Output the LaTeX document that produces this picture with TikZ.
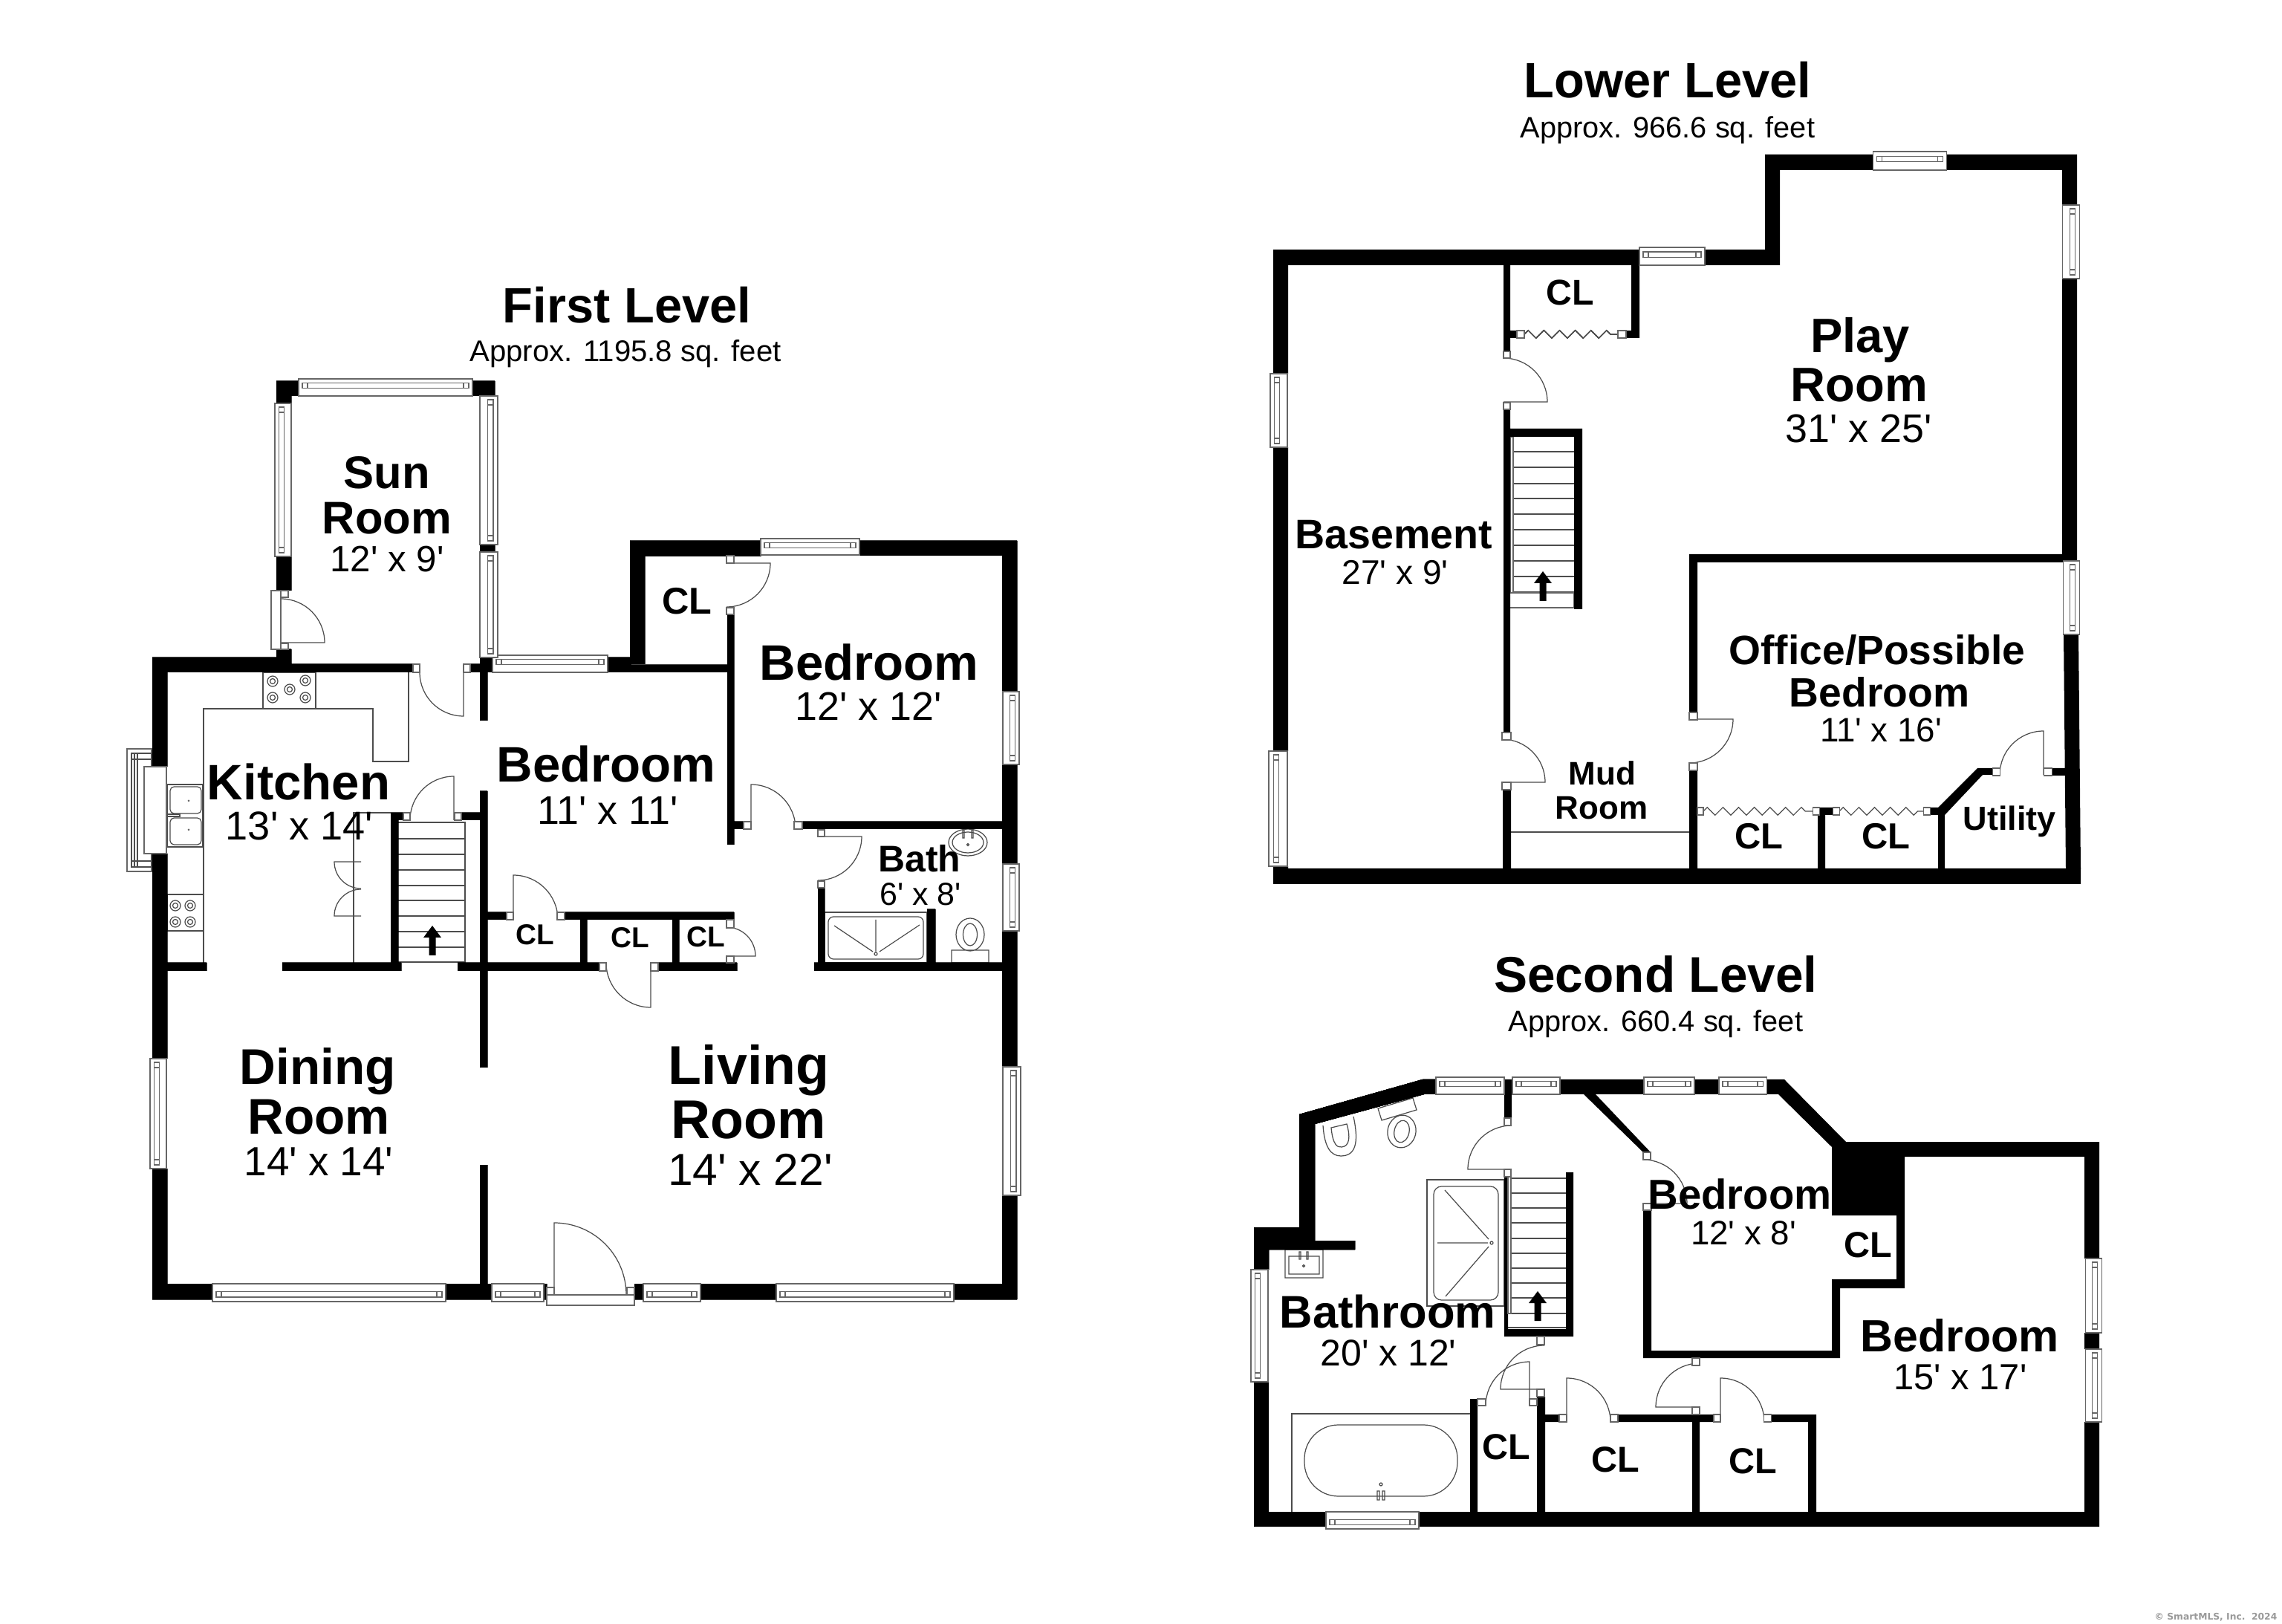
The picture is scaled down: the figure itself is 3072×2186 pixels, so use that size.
\documentclass[tikz,border=0pt]{standalone}
\usepackage{fontspec}
\newfontfamily\planfont{Liberation Sans}
\newfontfamily\markfont{DejaVu Sans}
\usetikzlibrary{decorations.pathmorphing}
\tikzset{
wall/.style={fill=black,draw=none},
fineline/.style={draw=black!70,line width=0.35pt},
sash/.style={draw=black!60,line width=0.3pt,fill=white},
bifold/.style={fineline,decorate,decoration={zigzag,segment length=6pt,amplitude=1.5pt}},
roomname/.style={anchor=base,inner sep=0pt,font=\planfont\bfseries\fontsize{#1}{#1}\selectfont},
roomdim/.style={anchor=base,inner sep=0pt,font=\planfont\fontsize{#1}{#1}\selectfont},
}
\newcommand\winh[4]{\draw[sash] (#1,#3) rectangle (#2,#4);
\draw[sash] ({#1+5},{#3+.25*(#4-#3)}) rectangle ({#2-5},{#3+.55*(#4-#3)});
\draw[sash] ({#1+12},{#3+.25*(#4-#3)}) -- ({#1+12},{#3+.55*(#4-#3)}) ({#2-12},{#3+.25*(#4-#3)}) -- ({#2-12},{#3+.55*(#4-#3)});}
\newcommand\winv[4]{\draw[sash] (#3,#1) rectangle (#4,#2);
\draw[sash] ({#3+.25*(#4-#3)},{#1+5}) rectangle ({#3+.55*(#4-#3)},{#2-5});
\draw[sash] ({#3+.25*(#4-#3)},{#1+12}) -- ({#3+.55*(#4-#3)},{#1+12}) ({#3+.25*(#4-#3)},{#2-12}) -- ({#3+.55*(#4-#3)},{#2-12});}
\newcommand\door[5]{\draw[fineline] (#1,#2)--++(#3:#5) arc[start angle=#3,end angle=#4,radius=#5];}
\newcommand\stairarrow[2]{\fill (#1,#2)--++(12,16)--++(-7.5,0)--++(0,24)--++(-9,0)--++(0,-24)--++(-7.5,0)--cycle;}
\begin{document}
\begin{tikzpicture}[x=0.01cm,y=-0.01cm]
\useasboundingbox (0,0) rectangle (3072,2186);
% first level: fittings
\draw[fineline] (550,905)--(550,1025)--(502,1025)--(502,954)--(274,954)--(274,1296);
\draw[fineline] (354,905) rectangle (425,954) (225,1204) rectangle (274,1253) (225,1056) rectangle (273,1140);
\foreach \a/\b in {367/917,411/916,390/928,367/939,411/939,236/1219,256/1219,236/1241,256/1241}
\draw[fineline] (\a,\b) circle[radius=7] (\a,\b) circle[radius=3.5];
\draw[fineline,rounded corners=1.5pt] (229,1059) rectangle (271,1095) (229,1101) rectangle (271,1137);
\fill[black!60] (254,1078) circle[radius=1.5] (254,1117) circle[radius=1.5];
\draw[fineline] (225,1096) rectangle (242,1099);
\draw[fineline] (526,1094)--(476,1094)--(476,1296);
\draw[fineline] (486,1160)--(450,1160) arc[start angle=180,end angle=90,radius=36];
\draw[fineline] (486,1233)--(450,1233) arc[start angle=180,end angle=270,radius=36];
\foreach \y in {1129,1150,1171,1192,1212,1233,1254,1275}
\draw[fineline] (536,\y)--(626,\y);
\draw[fineline] (536,1107)--(626,1107)--(626,1295)--(534,1295)--(534,1275);
\stairarrow{582}{1246}
\draw[fineline] (1281,1279) rectangle (1331,1296) (1306,1258) ellipse[x radius=19,y radius=22] (1306,1258) ellipse[x radius=9.5,y radius=15];
\draw[fineline] (1303,1134) ellipse[x radius=26,y radius=18] (1303,1134) ellipse[x radius=21,y radius=14];
\draw[fineline] (1296,1117) rectangle (1298,1128) (1308,1117) rectangle (1310,1128) (1303,1137) circle[radius=1.5];
\draw[fineline] (1110,1228) rectangle (1248,1296);
\draw[fineline,rounded corners=2pt] (1115,1234) rectangle (1243,1291);
\draw[fineline] (1179,1284) circle[radius=2] (1123,1246)--(1175,1281) (1179,1238)--(1179,1281) (1238,1245)--(1184,1281);
\foreach \a/\b/\c/\d/\r in {378/865/0/-90/59,624/905/90/180/59,978/758/0/90/59,1011/1116/-90/0/60,1101/1126/0/90/59,
611/1104/-90/-180/59,691/1238/-90/0/60,876/1296/90/180/60,978/1287/0/-90/39,746/1743/-90/0/97}
\door{\a}{\b}{\c}{\d}{\r}
\fill[wall] (205,885) rectangle (225,1032) (205,1149) rectangle (225,1425) (205,1573) rectangle (225,1749)
(205,885) rectangle (392,905) (392,894) rectangle (556,905) (372,513) rectangle (402,533) (372,513) rectangle (392,543)
(636,513) rectangle (666,533) (372,749) rectangle (392,795) (372,874) rectangle (392,885) (646,733) rectangle (666,743)
(633,894) rectangle (663,905) (646,885) rectangle (663,905) (646,905) rectangle (656,970) (646,1065) rectangle (656,1437)
(646,1568) rectangle (656,1728) (818,885) rectangle (849,905) (849,895) rectangle (988,905) (848,728) rectangle (868,894)
(848,728) rectangle (1024,749) (1157,728) rectangle (1369,748) (1349,728) rectangle (1369,931) (1349,1029) rectangle (1369,1163)
(1349,1253) rectangle (1369,1436) (1349,1609) rectangle (1369,1749) (979,827) rectangle (988,1137) (988,1106) rectangle (1000,1116)
(1080,1106) rectangle (1349,1116) (1101,1195) rectangle (1110,1296) (1096,1296) rectangle (1349,1307) (1248,1224) rectangle (1259,1296)
(656,1228) rectangle (682,1238) (760,1228) rectangle (988,1238) (781,1238) rectangle (790,1296) (905,1238) rectangle (914,1296)
(616,1296) rectangle (807,1307) (886,1296) rectangle (992,1307) (225,1296) rectangle (278,1307) (380,1296) rectangle (540,1307)
(526,1094) rectangle (536,1296) (526,1094) rectangle (543,1104) (621,1094) rectangle (646,1104)
(205,1728) rectangle (286,1749) (600,1728) rectangle (662,1749) (732,1728) rectangle (736,1749) (854,1728) rectangle (866,1749)
(943,1728) rectangle (1045,1749) (1284,1728) rectangle (1369,1749);
\foreach \a/\b/\c/\d in {402/636/510/533,663/818/882/905,1024/1157/725/747,286/600/1752/1728,662/732/1752/1728,866/943/1752/1728,1045/1284/1752/1728}
\winh{\a}{\b}{\c}{\d}
\foreach \a/\b/\c/\d in {543/749/370/392,533/733/670/646,743/885/670/646,931/1029/1372/1350,1163/1253/1372/1350,1436/1609/1374/1350,1425/1573/202/224}
\winv{\a}{\b}{\c}{\d}
% bay window and jambs
\draw[sash] (171,1008) rectangle (204,1173);
\draw[fineline] (177,1014) rectangle (204,1167) (181,1014)--(181,1167) (185,1014)--(185,1167) (177,1022)--(204,1022) (177,1159)--(204,1159);
\draw[sash] (194,1032) rectangle (224,1149);
\foreach \a/\b/\c/\d in {365/795/378/874,378/795/388/804,378/866/388/874,556/894/565/905,624/894/633/905,978/748/988/758,978/818/988/827,
1001/1106/1011/1116,1069/1106/1080/1116,1101/1117/1110/1126,1101/1186/1110/1195,543/1094/552/1104,612/1094/621/1104,682/1228/691/1238,
750/1228/760/1238,807/1296/816/1307,876/1296/886/1307,978/1238/988/1249,978/1287/988/1296,736/1743/854/1757,736/1733/746/1743,844/1733/854/1743}
\draw[sash] (\a,\b) rectangle (\c,\d);
% lower level: fittings
\foreach \y in {608,629,651,671,692,713,734,755,776,797}
\draw[fineline] (2036,\y)--(2119,\y);
\draw[fineline] (2034,1120)--(2274,1120);
\draw[sash] (2030,798) rectangle (2119,818);
\draw[sash] (2033,588) rectangle (2037,798);
\stairarrow{2077}{769}
\foreach \a/\b/\c/\d/\r in {2024/541/0/-90/59,2022/1053/0/-90/58,2274/968/0/90/59,2751/1043/-90/-180/59}
\door{\a}{\b}{\c}{\d}{\r}
\draw[bifold] (2052,450)--(2178,450);
\draw[bifold] (2293,1092)--(2440,1092);
\draw[bifold] (2476,1092)--(2589,1092);
\fill[wall] (1714,336) rectangle (2207,357) (2295,336) rectangle (2396,357) (2376,208) rectangle (2396,357) (2376,208) rectangle (2521,229)
(2620,208) rectangle (2796,229) (2776,208) rectangle (2796,276) (2776,375) rectangle (2796,755) (1714,336) rectangle (1734,503)
(1714,602) rectangle (1734,1011) (1714,1166) rectangle (1734,1190) (1714,1169) rectangle (2801,1190) (2024,357) rectangle (2033,473)
(2024,551) rectangle (2033,986) (2023,1063) rectangle (2034,1169) (2196,357) rectangle (2207,455) (2033,445) rectangle (2042,455)
(2189,445) rectangle (2207,455) (2033,577) rectangle (2130,588) (2119,577) rectangle (2130,820) (2274,746) rectangle (2777,757)
(2274,746) rectangle (2285,959) (2274,1037) rectangle (2285,1169) (2449,1087) rectangle (2467,1097) (2447,1087) rectangle (2457,1169)
(2598,1087) rectangle (2618,1097) (2609,1087) rectangle (2618,1169) (2762,1034) rectangle (2781,1044);
\fill[wall] (2778,854)--(2798,854)--(2801,1170)--(2781,1170)--cycle;
\fill[wall] (2609,1087)--(2662,1034)--(2682,1034)--(2682,1043)--(2669,1043)--(2618,1097)--cycle;
\foreach \a/\b/\c/\d in {2207/2295/333/357,2521/2620/204/229}
\winh{\a}{\b}{\c}{\d}
\foreach \a/\b/\c/\d in {276/375/2799/2776,755/854/2799/2777,503/602/1710/1733,1011/1166/1708/1733}
\winv{\a}{\b}{\c}{\d}
\foreach \a/\b/\c/\d in {2024/473/2033/482,2024/542/2033/551,2022/986/2034/996,2022/1053/2034/1063,2274/959/2285/969,2274/1027/2285/1037,
2042/445/2052/455,2178/445/2189/455,2285/1087/2293/1097,2440/1087/2449/1097,2467/1087/2476/1097,2589/1087/2598/1097,2682/1034/2692/1044,2751/1034/2762/1044}
\draw[sash] (\a,\b) rectangle (\c,\d);
% second level: fittings
\foreach \y in {1606,1626,1646,1667,1687,1707,1727,1747,1768}
\draw[fineline] (2034,\y)--(2108,\y);
\draw[fineline] (2034,1586)--(2108,1586) (2030,1787)--(2108,1787);
\stairarrow{2070}{1738}
\draw[fineline] (1921,1588) rectangle (2025,1758);
\draw[fineline,rounded corners=3pt] (1930,1597) rectangle (2017,1750);
\draw[fineline] (2008,1673) circle[radius=2] (1945,1602)--(2004,1668) (1935,1673)--(2003,1673) (1946,1745)--(2004,1678);
\draw[fineline] (1739,2035)--(1739,1903)--(1979,1903);
\draw[fineline,rounded corners=13pt] (1756,1918) rectangle (1962,2014);
\draw[fineline] (1859,1998) circle[radius=2] (1854,2007) rectangle (1857,2019) (1861,2007) rectangle (1864,2019);
\draw[fineline] (1730,1682) rectangle (1781,1720) (1735,1691) rectangle (1776,1715) (1755,1704) circle[radius=1.5] (1749,1685) rectangle (1751,1695) (1759,1685) rectangle (1761,1695);
\draw[fineline] (1855,1492)--(1902,1478)--(1907,1494)--(1860,1508)--cycle;
\draw[fineline,rotate around={-12:(1887,1523)}] (1887,1523) ellipse[x radius=19,y radius=22] (1887,1523) ellipse[x radius=10,y radius=15];
\draw[fineline] (1781,1515) .. controls (1783,1545) and (1792,1556) .. (1805,1556) .. controls (1824,1556) and (1830,1540) .. (1822,1503);
\draw[fineline] (1792,1518) .. controls (1794,1540) and (1800,1545) .. (1806,1544) .. controls (1817,1543) and (1818,1530) .. (1813,1513)--cycle;
\foreach \a/\b/\c/\d/\r in {2212/1620/0/-90/59,2035/1574/180/270/59,2079/1870/180/270/59,2059/1892/-90/-180/59,2109/1914/-90/0/59,2316/1914/-90/0/59,2288/1894/180/270/59}
\door{\a}{\b}{\c}{\d}{\r}
\fill[wall] (1688,1652)--(1749,1652)--(1749,1500)--(1915,1453)--(1933,1453)--(1933,1473)--(1917,1473)--(1770,1513)--(1770,1670)--(1824,1670)--(1824,1682)--(1708,1682)--(1708,1709)--(1688,1709)--cycle;
\fill[wall] (2378,1453)--(2402,1453)--(2485,1537)--(2826,1537)--(2826,1694)--(2806,1694)--(2806,1557)--(2564,1557)--(2564,1734)--(2466,1734)--(2466,1722)--(2553,1722)--(2553,1636)--(2466,1636)--(2466,1544)--(2394,1473)--(2378,1473)--cycle;
\fill[wall] (2132,1473)--(2148,1473)--(2222,1551)--(2212,1551)--cycle;
\fill[wall] (1688,1860) rectangle (1708,2055) (1688,2035) rectangle (2826,2055) (2025,1453) rectangle (2036,1473) (2100,1453) rectangle (2213,1473)
(2281,1453) rectangle (2314,1473) (2806,1794) rectangle (2826,1816) (2806,1914) rectangle (2826,2055) (2466,1722) rectangle (2477,1828)
(2212,1818) rectangle (2477,1828) (2212,1629) rectangle (2223,1828) (2025,1473) rectangle (2035,1505) (2025,1584) rectangle (2030,1799)
(2108,1578) rectangle (2118,1799) (2025,1789) rectangle (2118,1799) (1979,1883) rectangle (1989,2035) (2069,1880) rectangle (2080,2035)
(2080,1904) rectangle (2099,1914) (2178,1904) rectangle (2307,1914) (2278,1904) rectangle (2288,2035) (2384,1904) rectangle (2445,1914)
(2434,1904) rectangle (2445,2035);
\foreach \a/\b/\c/\d in {1933/2025/1450/1473,2036/2100/1450/1473,2213/2281/1450/1473,2314/2378/1450/1473,1785/1910/2058/2035}
\winh{\a}{\b}{\c}{\d}
\foreach \a/\b/\c/\d in {1709/1860/1684/1707,1694/1794/2829/2807,1816/1914/2829/2807}
\winv{\a}{\b}{\c}{\d}
\draw[sash] (2030,1584) rectangle (2034,1768);
\foreach \a/\b/\c/\d in {2212/1551/2222/1561,2212/1620/2223/1629,2025/1505/2034/1515,2025/1574/2034/1584,2069/1799/2079/1810,2069/1870/2079/1880,
1989/1883/2000/1892,2059/1883/2069/1892,2099/1904/2109/1914,2168/1904/2178/1914,2307/1904/2316/1914,2374/1904/2384/1914,2278/1828/2288/1838,2278/1894/2288/1904}
\draw[sash] (\a,\b) rectangle (\c,\d);
% first level: labels
\node[roomname=19] (firsttitle) at (844,435) {First Level};
\node[roomdim=11.4] (firstarea) at (842,487) {Approx. 1195.8 sq. feet};
\node[roomname=17.5] (sunA) at (521,658) {Sun};
\node[roomname=17.5] (sunB) at (521,719) {Room};
\node[roomdim=14] (sunC) at (521,770) {12' x 9'};
\node[roomname=19.1] (kitchenA) at (402,1077) {Kitchen};
\node[roomdim=15.4] (kitchenB) at (403,1131) {13' x 14'};
\node[roomname=19.1] (bedAA) at (816,1053) {Bedroom};
\node[roomdim=15.3] (bedAB) at (818,1110) {11' x 11'};
\node[roomname=19.1] (bedBA) at (1170,916) {Bedroom};
\node[roomdim=15.3] (bedBB) at (1169,970) {12' x 12'};
\node[roomname=14.3] (clA) at (925,827) {CL};
\node[roomname=14.2] (bathA) at (1238,1174) {Bath};
\node[roomdim=12.2] (bathB) at (1239,1219) {6' x 8'};
\node[roomname=11] (clB) at (720,1272) {CL};
\node[roomname=11] (clC) at (848,1276) {CL};
\node[roomname=11] (clD) at (950,1275) {CL};
\node[roomname=19.2] (diningA) at (428,1460) {Dining};
\node[roomname=19.2] (diningB) at (429,1527) {Room};
\node[roomdim=15.6] (diningC) at (429,1583) {14' x 14'};
\node[roomname=20.9] (livingA) at (1008,1459) {Living};
\node[roomname=20.9] (livingB) at (1008,1533) {Room};
\node[roomdim=17.2] (livingC) at (1010,1596) {14' x 22'};
% lower level: labels
\node[roomname=19] (lowertitle) at (2245,132) {Lower Level};
\node[roomdim=11.3] (lowerarea) at (2245,186) {Approx. 966.6 sq. feet};
\node[roomname=13.7] (clE) at (2114,411) {CL};
\node[roomname=18.5] (playA) at (2504,475) {Play};
\node[roomname=18.5] (playB) at (2503,541) {Room};
\node[roomdim=15.3] (playC) at (2502,596) {31' x 25'};
\node[roomname=15.8] (basementA) at (1876,739) {Basement};
\node[roomdim=13.1] (basementB) at (1878,787) {27' x 9'};
\node[roomname=15.7] (officeA) at (2527,895) {Office/Possible};
\node[roomname=15.7] (officeB) at (2530,952) {Bedroom};
\node[roomdim=13] (officeC) at (2532,999) {11' x 16'};
\node[roomname=12.5] (mudA) at (2157,1057) {Mud};
\node[roomname=12.5] (mudB) at (2156,1103) {Room};
\node[roomname=13.9] (clF) at (2368,1143) {CL};
\node[roomname=13.9] (clG) at (2539,1143) {CL};
\node[roomname=12.8] (utility) at (2705,1118) {Utility};
% second level: labels
\node[roomname=19.2] (secondtitle) at (2229,1336) {Second Level};
\node[roomdim=11.3] (secondarea) at (2229,1389) {Approx. 660.4 sq. feet};
\node[roomname=17.5] (bathroomA) at (1868,1787) {Bathroom};
\node[roomdim=14.2] (bathroomB) at (1869,1838) {20' x 12'};
\node[roomname=16] (bedCA) at (2342,1627) {Bedroom};
\node[roomdim=13] (bedCB) at (2347,1675) {12' x 8'};
\node[roomname=13.8] (clH) at (2515,1692) {CL};
\node[roomname=17.3] (bedDA) at (2638,1819) {Bedroom};
\node[roomdim=13.9] (bedDB) at (2639,1870) {15' x 17'};
\node[roomname=13.8] (clI) at (2028,1964) {CL};
\node[roomname=13.8] (clJ) at (2175,1981) {CL};
\node[roomname=13.8] (clK) at (2360,1983) {CL};
\node[anchor=base east,inner sep=0pt,text=black!40,font=\markfont\bfseries\fontsize{3.5}{3.5}\selectfont] (mark) at (3066,2180) {© SmartMLS, Inc.\ \ 2024};
\end{tikzpicture}
\end{document}
